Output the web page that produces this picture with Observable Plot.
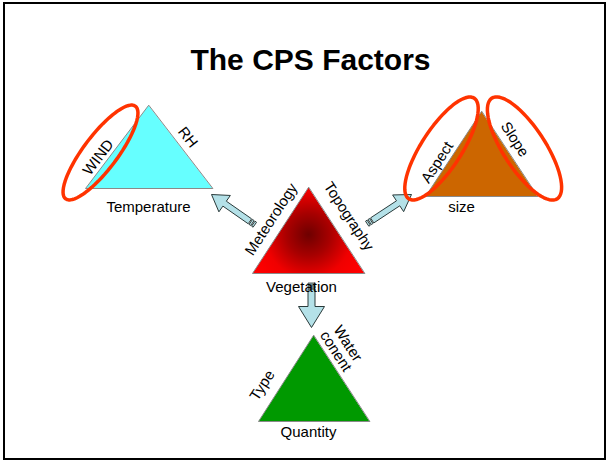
<!DOCTYPE html>
<html><head><meta charset="utf-8">
<script src="https://cdn.jsdelivr.net/npm/d3@7"></script>
<script src="https://cdn.jsdelivr.net/npm/@observablehq/plot@0.6"></script>
<style>
body{margin:0;background:#fff;}
#chart svg{display:block;}
</style>
</head><body><div id="chart"></div>
<script>
// ---- diagram data (canvas units, y downward) ----
const titleText = "The CPS Factors";
const titlePos = [310, 59.5];

const triangleNames = ["Meteorology", "Topography", "CPS", "Vegetation"];
const triangleFills = ["#66FFFF", "#CC6600", "url(#cpsGrad)", "#009900"];
const triangleVertices = [
  [[148,105],[85,188],[212,188]],
  [[481,111],[425,196],[537,196]],
  [[308,187],[252,273],[364,273]],
  [[313,335],[258,421],[369,421]]
];

// highlight ellipses: centre x, centre y, semi-major, semi-minor, angle (deg)
const ellipseCx = [100, 441, 524];
const ellipseCy = [152, 148, 148];
const ellipseRx = [58, 60, 60];
const ellipseRy = [17, 20, 21];
const ellipseAngle = [-53, -57, 57];

// arrows: tail point, tip point
const arrowTails = [[254,224],[367,223],[311,283]];
const arrowTips  = [[211,194],[411,194],[311,327]];
const arrowShaft = [6, 6, 7];
const arrowHeadW = [20, 20, 26];
const arrowHeadL = [16, 16, 21];

const labelTexts = ["Temperature","RH","WIND","Aspect","Slope","size",
  "Meteorology","Topography","Vegetation","Type","Water\nconent","Quantity"];
const labelX = [148,187,98,437,514,461,271,348,301,262,341,308];
const labelY = [207,137,157,162,139,207,219,216,287,385,347,432];
const labelRotate = [0,52,-53,-57,57,0,-57,57,0,-57,57,0];

// ---- geometry builders ----
const triRows = triangleVertices.flatMap((pts, i) =>
  pts.map(([x, y]) => ({id: triangleNames[i], x, y, fill: triangleFills[i]})));

const ellRows = ellipseCx.flatMap((cx, i) => {
  const a = ellipseAngle[i] * Math.PI / 180, rows = [];
  for (let k = 0; k < 72; k++) {
    const t = k / 72 * 2 * Math.PI;
    const ex = ellipseRx[i] * Math.cos(t), ey = ellipseRy[i] * Math.sin(t);
    rows.push({id: i, x: cx + ex * Math.cos(a) - ey * Math.sin(a), y: ellipseCy[i] + ex * Math.sin(a) + ey * Math.cos(a)});
  }
  return rows;
});

function arrowPolys(i) {
  const [tx, ty] = arrowTails[i], [hx, hy] = arrowTips[i];
  const L = Math.hypot(hx - tx, hy - ty), ux = (hx - tx) / L, uy = (hy - ty) / L;
  const nx = -uy, ny = ux;
  const P = (s, w) => ({x: tx + ux * s + nx * w, y: ty + uy * s + ny * w});
  const sw = arrowShaft[i] / 2, hw = arrowHeadW[i] / 2, hl = arrowHeadL[i];
  const body = [P(6, -sw), P(L - hl, -sw), P(L - hl, -hw), P(L, 0), P(L - hl, hw), P(L - hl, sw), P(6, sw)];
  const s1 = [P(0, -sw), P(1.5, -sw), P(1.5, sw), P(0, sw)];
  const s2 = [P(3, -sw), P(4.5, -sw), P(4.5, sw), P(3, sw)];
  return [body, s1, s2].map((poly, j) => poly.map(p => ({...p, id: i + "-" + j})));
}
const arrowRows = arrowTails.flatMap((_, i) => arrowPolys(i).flat());

const labelRows = labelTexts.map((t, i) => ({text: t, x: labelX[i], y: labelY[i], rotate: labelRotate[i]}));
const border = [{x1: 4, x2: 605, y1: 3, y2: 459}];

const plot = Plot.plot({
  width: 609, height: 461,
  margin: 0,
  x: {domain: [0, 609], range: [0, 609], axis: null},
  y: {domain: [0, 461], range: [0, 461], axis: null},
  style: {fontFamily: "'Liberation Sans', Arial, sans-serif", background: "#fff"},
  marks: [
    Plot.rect(border, {x1: "x1", x2: "x2", y1: "y1", y2: "y2", fill: "none", stroke: "#000", strokeWidth: 2}),
    ...triangleNames.map((n, i) => Plot.line(triRows.filter(d => d.id === n), {
      x: "x", y: "y", curve: "linear-closed", fill: triangleFills[i], stroke: "#8a8a8a", strokeWidth: 1
    })),
    Plot.line(arrowRows, {x: "x", y: "y", z: "id", curve: "linear-closed", fill: "#B4E1E8", stroke: "#2a3a3a", strokeWidth: 1}),
    Plot.line(ellRows, {x: "x", y: "y", z: "id", curve: "linear-closed", fill: "none", stroke: "#FF3300", strokeWidth: 3.5}),
    Plot.text(labelRows, {x: "x", y: "y", text: "text", rotate: "rotate", fontSize: 15, fill: "#000", lineHeight: 0.95}),
    Plot.text([titleText], {x: titlePos[0], y: titlePos[1], text: d => d, fontSize: 30, fontWeight: "bold", fill: "#000"})
  ]
});

const defs = d3.select(plot).insert("defs", ":first-child");
const g = defs.append("radialGradient").attr("id", "cpsGrad")
  .attr("gradientUnits", "userSpaceOnUse").attr("cx", 308).attr("cy", 234).attr("r", 62);
g.append("stop").attr("offset", 0).attr("stop-color", "#6e0000");
g.append("stop").attr("offset", 0.35).attr("stop-color", "#a80000");
g.append("stop").attr("offset", 0.7).attr("stop-color", "#f00000");
g.append("stop").attr("offset", 1).attr("stop-color", "#ff0000");

document.getElementById("chart").appendChild(plot);
</script>
</body></html>
